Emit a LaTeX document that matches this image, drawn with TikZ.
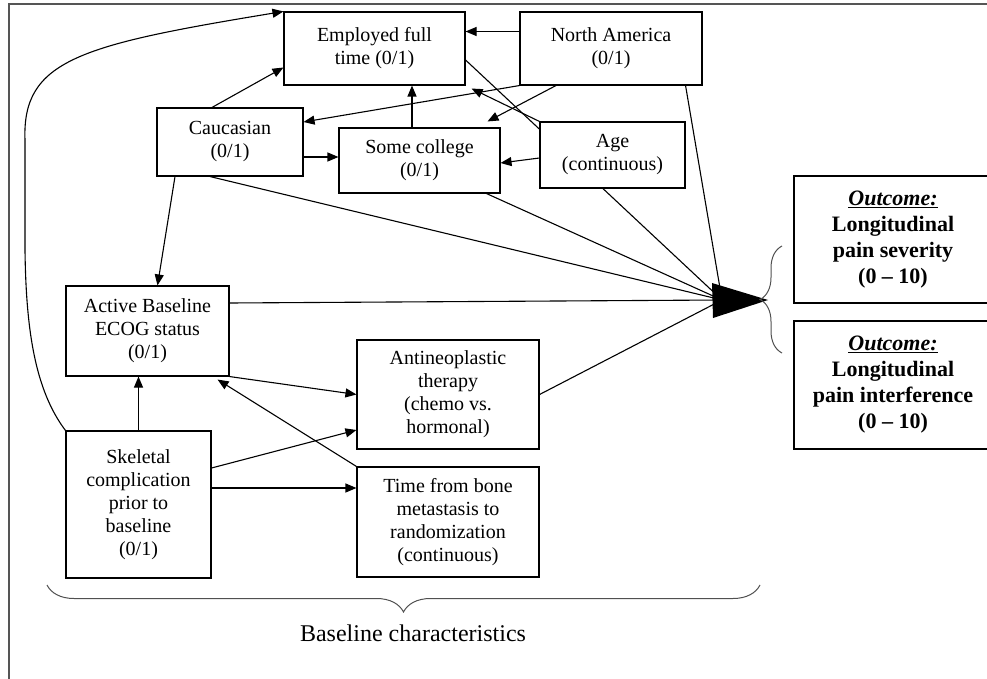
\documentclass[tikz,border=0pt]{standalone}
\usepackage{fontspec}
\setmainfont{Liberation Serif}
\usetikzlibrary{arrows.meta,decorations.pathreplacing,backgrounds}
\definecolor{frameGray}{RGB}{85,85,85}
\definecolor{braceGray}{RGB}{80,80,80}

\begin{document}
\begin{tikzpicture}[x=1pt,y=-1pt,
    box/.style={draw,fill=white,line width=1.1pt,align=center,inner sep=0pt,
      font=\fontsize{20}{23}\selectfont},
    outbox/.style={box,font=\fontsize{22}{26}\selectfont\bfseries},
    arr/.style={line width=1.1pt,-{Triangle[length=11pt,width=9pt]}},
    feed/.style={line width=1.1pt},
    brc/.style={braceGray,line width=1pt,decorate}]
  \useasboundingbox (0,0) rectangle (987,679);
  % open frame
  \draw[frameGray,line width=1.3pt] (9,679) -- (9,4) -- (990,4);

  % baseline characteristics
  \node[box,minimum width=181pt,minimum height=73pt] (emp) at (374.5,48.5) {Employed full\\time (0/1)};
  \node[box,minimum width=182pt,minimum height=73pt] (na) at (611,48.5) {North America\\(0/1)};
  \node[box,minimum width=146pt,minimum height=68pt] (cauc) at (230,142) {Caucasian\\(0/1)};
  \node[box,minimum width=161pt,minimum height=65pt] (coll) at (419.5,160.5) {Some college\\(0/1)};
  \node[box,minimum width=145pt,minimum height=66pt] (age) at (612.5,155) {Age\\(continuous)};
  \node[box,minimum width=163pt,minimum height=90pt] (ecog) at (147.5,331) {Active Baseline\\ECOG status\\(0/1)};
  \node[box,minimum width=182pt,minimum height=109pt] (anti) at (448,394.5) {Antineoplastic\\therapy\\(chemo vs.\\hormonal)};
  \node[box,minimum width=145pt,minimum height=147pt] (skel) at (138.5,504.5) {Skeletal\\complication\\prior to\\baseline\\(0/1)};
  \node[box,minimum width=182pt,minimum height=110pt] (time) at (448,522) {Time from bone\\metastasis to\\randomization\\(continuous)};

  % outcomes
  \node[outbox,minimum width=198pt,minimum height=127pt] (sev) at (893,239.5) {\underline{\textit{Outcome:}}\\Longitudinal\\pain severity\\(0 -- 10)};
  \node[outbox,minimum width=198pt,minimum height=128pt] (intf) at (893,385) {\underline{\textit{Outcome:}}\\Longitudinal\\pain interference\\(0 -- 10)};

  \coordinate (hub) at (722,300);
  \coordinate (tip) at (768,300);

  % paths among the baseline boxes
  \draw[arr] (skel.north west) .. controls (35,390) and (26,330) .. (25,250)
    -- (25,140) .. controls (22,60) and (80,45) .. (emp.north west);
  \draw[arr] ([xshift=-18pt]cauc.north) -- ([yshift=-19pt]emp.west);
  \draw[arr] ([yshift=17pt]na.west) -- ([yshift=17pt]emp.east);
  \draw[arr] (na.south west) -- ([yshift=20pt]cauc.east);
  \draw[arr] ([xshift=-55pt]na.south) -- ([xshift=68pt,yshift=6pt]coll.north);
  \draw[arr] (age.north west) -- ([xshift=6pt,yshift=-3pt]emp.south east);
  \draw[arr] ([yshift=-15pt]cauc.east) -- ([yshift=3.5pt]coll.west);
  \draw[arr] ([xshift=-7.5pt]coll.north) -- ([xshift=37.5pt]emp.south);
  \draw[arr] ([yshift=-3pt]age.west) -- ([yshift=-2.5pt]coll.east);
  \draw[arr] ([xshift=-55pt]cauc.south) -- ([xshift=10pt]ecog.north);
  \draw[arr] (skel.north) -- (skel.north |- ecog.south);
  \draw[arr] (ecog.south east) -- (anti.west);
  \draw[arr] (time.north west) -- ([xshift=-12pt,yshift=-3pt]ecog.south east);
  \draw[arr] ([yshift=36.5pt]skel.east) -- ([yshift=-35.5pt]anti.west);
  \draw[arr] ([yshift=16.5pt]skel.east) -- ([yshift=34pt]time.west);

  % paths into the outcome
  \begin{scope}[on background layer]
    \draw[feed] ([yshift=-11.5pt]emp.east) -- (hub);
  \end{scope}
  \draw[feed] ([xshift=-17pt]na.south east) -- (hub);
  \draw[feed] ([xshift=67pt]coll.south) -- (hub);
  \draw[feed] ([xshift=-20pt]cauc.south) -- (hub);
  \draw[feed] ([yshift=28pt]ecog.east) -- (hub);
  \draw[feed] (anti.east) -- (hub);
  \fill (712,283) -- (713,318) -- (tip) -- cycle;

  % braces
  \draw[brc,decoration={brace,amplitude=22pt}] (782,353) -- (782,246);
  \draw[brc,decoration={brace,amplitude=27pt}] (760,585) -- (47,585);
  \node[font=\fontsize{24}{28}\selectfont] (baselbl) at (413,633) {Baseline characteristics};
\end{tikzpicture}
\end{document}
